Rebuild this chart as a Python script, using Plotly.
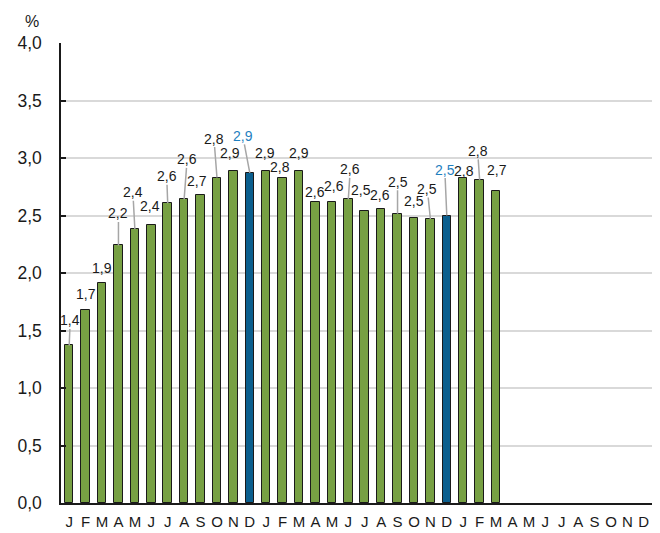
import plotly.graph_objects as go

months = ["J", "F", "M", "A", "M", "J", "J", "A", "S", "O", "N", "D"] * 3
values = [1.37, 1.68, 1.91, 2.24, 2.38, 2.415, 2.606, 2.64, 2.68, 2.83, 2.89, 2.87,
          2.89, 2.83, 2.89, 2.617, 2.62, 2.64, 2.54, 2.556, 2.516, 2.478, 2.47, 2.50,
          2.83, 2.81, 2.71]
labels = ["1,4", "1,7", "1,9", "2,2", "2,4", "2,4", "2,6", "2,6", "2,7", "2,8", "2,9", "2,9",
          "2,9", "2,8", "2,9", "2,6", "2,6", "2,6", "2,5", "2,6", "2,5", "2,5", "2,5", "2,5",
          "2,8", "2,8", "2,7"]
highlight = [11, 23]  # December bars

# label placement (pixel offsets from bar top) and leader-line flags
label_dx = [1, 0, 0, 0, -2, -1, -1, 3, -4, -3, -3, -7, -1, -3, 0, 0, 2, 2, -4, -1, 0, 0, -3, -2, 1, -2, 1]
label_dy = [-25, -16, -15, -32, -37, -19, -27, -40, -14, -39, -18, -37, -18, -11, -18, -10, -16,
            -30, -21, -14, -32, -17, -30, -46, -7, -29, -21]
leader = [1, 0, 0, 1, 1, 0, 1, 1, 0, 1, 0, 1, 0, 0, 0, 0, 0, 1, 0, 0, 1, 0, 1, 1, 0, 1, 0]

GREEN = "#77A043"
BLUE = "#0B5F8E"
LBLUE = "#1F80C0"

x = list(range(len(values)))
colors = [BLUE if i in highlight else GREEN for i in x]

fig = go.Figure()
fig.add_trace(go.Bar(
    x=x, y=values, width=0.52,
    marker=dict(color=colors, line=dict(color="#1A1A1A", width=1)),
    hoverinfo="skip",
))

for i, (v, t) in enumerate(zip(values, labels)):
    fig.add_annotation(
        x=i, y=v, xref="x", yref="y", text=t,
        showarrow=True, ax=label_dx[i], ay=label_dy[i], axref="pixel", ayref="pixel",
        arrowhead=0, arrowwidth=1.5, standoff=0, startstandoff=0,
        arrowcolor="#A6A6A6" if leader[i] else "rgba(0,0,0,0)",
        font=dict(size=14, color=LBLUE if i in highlight else "#1A1A1A"),
        xanchor="center", yanchor="middle", borderpad=0,
    )

fig.add_annotation(x=0, y=1, xref="paper", yref="paper", text="%", showarrow=False,
                   xshift=-29, yshift=22, xanchor="center", yanchor="middle",
                   font=dict(size=16, color="#1A1A1A"))

# page body has an 8px margin, so the figure is sized to fill the rest of the window
fig.update_layout(
    width=652, height=525,
    margin=dict(l=53, r=8, t=35, b=30),
    paper_bgcolor="white", plot_bgcolor="white",
    separators=", ",
    showlegend=False,
    font=dict(family="Liberation Sans, Arial, sans-serif", color="#1A1A1A"),
    bargap=0,
)
fig.update_xaxes(
    range=[-0.5, 35.5], tickvals=list(range(36)), ticktext=months,
    showgrid=False, showline=True, linecolor="#1A1A1A", linewidth=1.5,
    ticks="", tickfont=dict(size=15), ticklabelstandoff=4, zeroline=False,
    automargin=False,
)
fig.update_yaxes(
    range=[0, 4], dtick=0.5, tickformat=".1f",
    showgrid=True, gridcolor="#D9D9D9", gridwidth=1.5,
    showline=True, linecolor="#1A1A1A", linewidth=1.5,
    ticks="inside", ticklen=5, tickcolor="#1A1A1A", tickwidth=1.5,
    tickfont=dict(size=17.5), ticklabelstandoff=14, zeroline=False,
    automargin=False,
)

fig.write_html("out.html")
